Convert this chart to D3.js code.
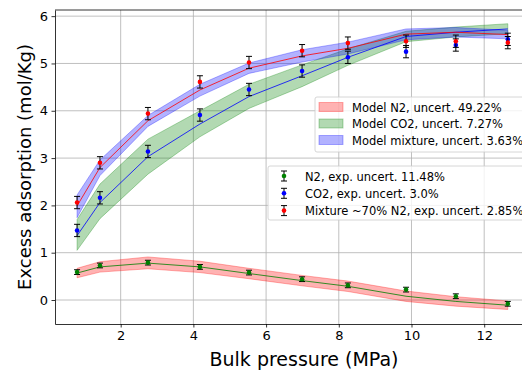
<!DOCTYPE html>
<html lang="en">
<head>
<meta charset="utf-8">
<title>Excess adsorption</title>
<script src="https://d3js.org/d3.v7.min.js"></script>
<style>
body { margin: 0; background: #fff; }
svg { font-family: "DejaVu Sans", sans-serif; display: block; }
.grid line { stroke: #b0b0b0; stroke-width: 0.8; }
.axis text { font-size: 13px; fill: #000; }
.axis path, .axis line { stroke: #000; stroke-width: 0.8; }
</style>
</head>
<body>
<script>
// pressures (MPa)
var pressure = [0.80, 1.43, 2.75, 4.18, 5.53, 6.99, 8.25, 9.85, 11.22, 12.65];

// experimental points
var expN2  = [0.59, 0.73, 0.79, 0.70, 0.58, 0.44, 0.31, 0.22, 0.08, -0.08];
var expCO2 = [1.47, 2.16, 3.14, 3.91, 4.45, 4.84, 5.13, 5.25, 5.39, 5.51];
var expMix = [2.06, 2.90, 3.94, 4.61, 5.02, 5.27, 5.43, 5.47, 5.47, 5.44];
var errN2  = [0.05, 0.05, 0.05, 0.05, 0.05, 0.05, 0.05, 0.05, 0.05, 0.05];
var errCO2 = [0.13, 0.13, 0.13, 0.13, 0.13, 0.13, 0.13, 0.13, 0.13, 0.13];
var errMix = [0.13, 0.13, 0.13, 0.13, 0.13, 0.13, 0.13, 0.13, 0.13, 0.13];

// model lines
var modN2  = [0.57, 0.70, 0.78, 0.70, 0.56, 0.41, 0.29, 0.08, -0.03, -0.11];
var modCO2 = [1.36, 2.06, 3.03, 3.72, 4.30, 4.74, 5.13, 5.57, 5.66, 5.73];
var modMix = [1.99, 2.80, 3.79, 4.44, 4.90, 5.16, 5.32, 5.62, 5.66, 5.61];

// model uncertainty bands (lower / upper)
var lowN2  = [0.47, 0.59, 0.66, 0.58, 0.45, 0.30, 0.18, -0.03, -0.13, -0.20];
var highN2 = [0.67, 0.81, 0.91, 0.82, 0.67, 0.52, 0.40, 0.19, 0.07, -0.02];
var lowCO2  = [1.05, 1.72, 2.66, 3.45, 4.05, 4.51, 4.96, 5.46, 5.56, 5.63];
var highCO2 = [1.70, 2.45, 3.40, 4.00, 4.56, 4.97, 5.31, 5.68, 5.77, 5.84];
var lowMix  = [1.74, 2.63, 3.67, 4.31, 4.79, 5.03, 5.20, 5.50, 5.56, 5.52];
var highMix = [2.22, 2.96, 3.90, 4.56, 5.01, 5.29, 5.45, 5.73, 5.76, 5.70];

var xTicks = [2, 4, 6, 8, 10, 12];
var yTicks = [0, 1, 2, 3, 4, 5, 6];

var bandLabels = ["Model N2, uncert. 49.22%", "Model CO2, uncert. 7.27%", "Model mixture, uncert. 3.63%"];
var expLabels = ["N2, exp. uncert. 11.48%", "CO2, exp. uncert. 3.0%", "Mixture ~70% N2, exp. uncert. 2.85%"];

var W = 522, H = 373;
var mLeft = 55, mRight = 524, mTop = 10, mBottom = 324;

var svg = d3.select("body").append("svg")
  .attr("width", W)
  .attr("height", H);

var x = d3.scaleLinear().domain([0.193, 13.095]).range([mLeft, mRight]);
var y = d3.scaleLinear().domain([-0.507, 6.13]).range([mBottom, mTop]);

// grid
var grid = svg.append("g").attr("class", "grid");
grid.selectAll(".gx").data(xTicks).enter().append("line")
  .attr("x1", d => x(d)).attr("x2", d => x(d))
  .attr("y1", mTop).attr("y2", mBottom);
grid.selectAll(".gy").data(yTicks).enter().append("line")
  .attr("x1", mLeft).attr("x2", mRight)
  .attr("y1", d => y(d)).attr("y2", d => y(d));

// bands
function bandData(lo, hi) {
  return pressure.map(function(p, i) { return {p: p, lo: lo[i], hi: hi[i]}; });
}
var area = d3.area().x(d => x(d.p)).y0(d => y(d.lo)).y1(d => y(d.hi));
var bands = [
  {data: bandData(lowN2, highN2), color: "red"},
  {data: bandData(lowCO2, highCO2), color: "green"},
  {data: bandData(lowMix, highMix), color: "blue"}
];
svg.selectAll(".band").data(bands).enter().append("path")
  .attr("class", "band")
  .attr("d", d => area(d.data))
  .attr("fill", d => d.color)
  .attr("fill-opacity", 0.3)
  .attr("stroke", d => d.color)
  .attr("stroke-opacity", 0.3)
  .attr("stroke-width", 1);

// model lines
var line = d3.line().x((d, i) => x(pressure[i])).y(d => y(d));
var models = [
  {vals: modN2, color: "green"},
  {vals: modCO2, color: "blue"},
  {vals: modMix, color: "red"}
];
svg.selectAll(".model").data(models).enter().append("path")
  .attr("class", "model")
  .attr("d", d => line(d.vals))
  .attr("fill", "none")
  .attr("stroke", d => d.color)
  .attr("stroke-width", 0.8);

// experimental points with error bars
var exps = [
  {vals: expN2, err: errN2, color: "green"},
  {vals: expCO2, err: errCO2, color: "blue"},
  {vals: expMix, err: errMix, color: "red"}
];
exps.forEach(function(s) {
  var g = svg.append("g");
  var pts = pressure.map(function(p, i) { return {p: p, v: s.vals[i], e: s.err[i]}; });
  var eb = g.selectAll("g").data(pts).enter().append("g");
  eb.append("line")
    .attr("x1", d => x(d.p)).attr("x2", d => x(d.p))
    .attr("y1", d => y(d.v - d.e)).attr("y2", d => y(d.v + d.e))
    .attr("stroke", "#000").attr("stroke-width", 1);
  [-1, 1].forEach(function(sg) {
    eb.append("line")
      .attr("x1", d => x(d.p) - 3).attr("x2", d => x(d.p) + 3)
      .attr("y1", d => y(d.v + sg * d.e)).attr("y2", d => y(d.v + sg * d.e))
      .attr("stroke", "#000").attr("stroke-width", 1);
  });
  eb.append("circle")
    .attr("cx", d => x(d.p)).attr("cy", d => y(d.v))
    .attr("r", 2.3)
    .attr("fill", s.color);
});

// axes
var xAxis = svg.append("g").attr("class", "axis")
  .attr("transform", "translate(0," + mBottom + ")")
  .call(d3.axisBottom(x).tickValues(xTicks).tickFormat(d3.format("d"))
    .tickSize(3.5).tickPadding(3.5).tickSizeOuter(0));
var yAxis = svg.append("g").attr("class", "axis")
  .attr("transform", "translate(" + mLeft + ",0)")
  .call(d3.axisLeft(y).tickValues(yTicks).tickFormat(d3.format("d"))
    .tickSize(3.5).tickPadding(3.5).tickSizeOuter(0));
xAxis.selectAll("text").attr("font-family", "DejaVu Sans");
yAxis.selectAll("text").attr("font-family", "DejaVu Sans");

// frame (top and right spines)
svg.append("line").attr("x1", mLeft).attr("x2", mRight).attr("y1", mTop).attr("y2", mTop)
  .attr("stroke", "#000").attr("stroke-width", 0.8);
svg.append("line").attr("x1", mRight).attr("x2", mRight).attr("y1", mTop).attr("y2", mBottom)
  .attr("stroke", "#000").attr("stroke-width", 0.8);

// axis labels
svg.append("text")
  .attr("x", 304).attr("y", 366)
  .attr("text-anchor", "middle")
  .attr("font-size", 19)
  .text("Bulk pressure (MPa)");
svg.append("text")
  .attr("transform", "translate(31,167) rotate(-90)")
  .attr("text-anchor", "middle")
  .attr("font-size", 18)
  .text("Excess adsorption (mol/Kg)");

// legend 1: model bands
var leg1 = svg.append("g").attr("transform", "translate(315,97)");
leg1.append("rect")
  .attr("width", 212).attr("height", 55).attr("rx", 2)
  .attr("fill", "#fff").attr("fill-opacity", 0.8)
  .attr("stroke", "#ccc").attr("stroke-width", 0.8);
var l1 = leg1.selectAll(".item").data(bands).enter().append("g")
  .attr("transform", (d, i) => "translate(0," + (10 + i * 16.5) + ")");
l1.append("rect")
  .attr("x", 4).attr("y", -4.5).attr("width", 24).attr("height", 9)
  .attr("fill", d => d.color).attr("fill-opacity", 0.3)
  .attr("stroke", d => d.color).attr("stroke-opacity", 0.3);
l1.append("text")
  .attr("x", 37).attr("y", 4.5)
  .attr("font-size", 11.5)
  .text((d, i) => bandLabels[i]);

// legend 2: experimental series
var leg2 = svg.append("g").attr("transform", "translate(268,166)");
leg2.append("rect")
  .attr("width", 258).attr("height", 54).attr("rx", 2)
  .attr("fill", "#fff").attr("fill-opacity", 0.8)
  .attr("stroke", "#ccc").attr("stroke-width", 0.8);
var l2 = leg2.selectAll(".item").data(exps).enter().append("g")
  .attr("transform", (d, i) => "translate(16," + (10 + i * 17.3) + ")");
l2.append("line").attr("y1", -5).attr("y2", 5).attr("stroke", "#000");
l2.append("line").attr("x1", -3).attr("x2", 3).attr("y1", -5).attr("y2", -5).attr("stroke", "#000");
l2.append("line").attr("x1", -3).attr("x2", 3).attr("y1", 5).attr("y2", 5).attr("stroke", "#000");
l2.append("circle").attr("r", 2.3).attr("fill", d => d.color);
l2.append("text")
  .attr("x", 21).attr("y", 4.5)
  .attr("font-size", 11.5)
  .text((d, i) => expLabels[i]);
</script>
</body>
</html>
